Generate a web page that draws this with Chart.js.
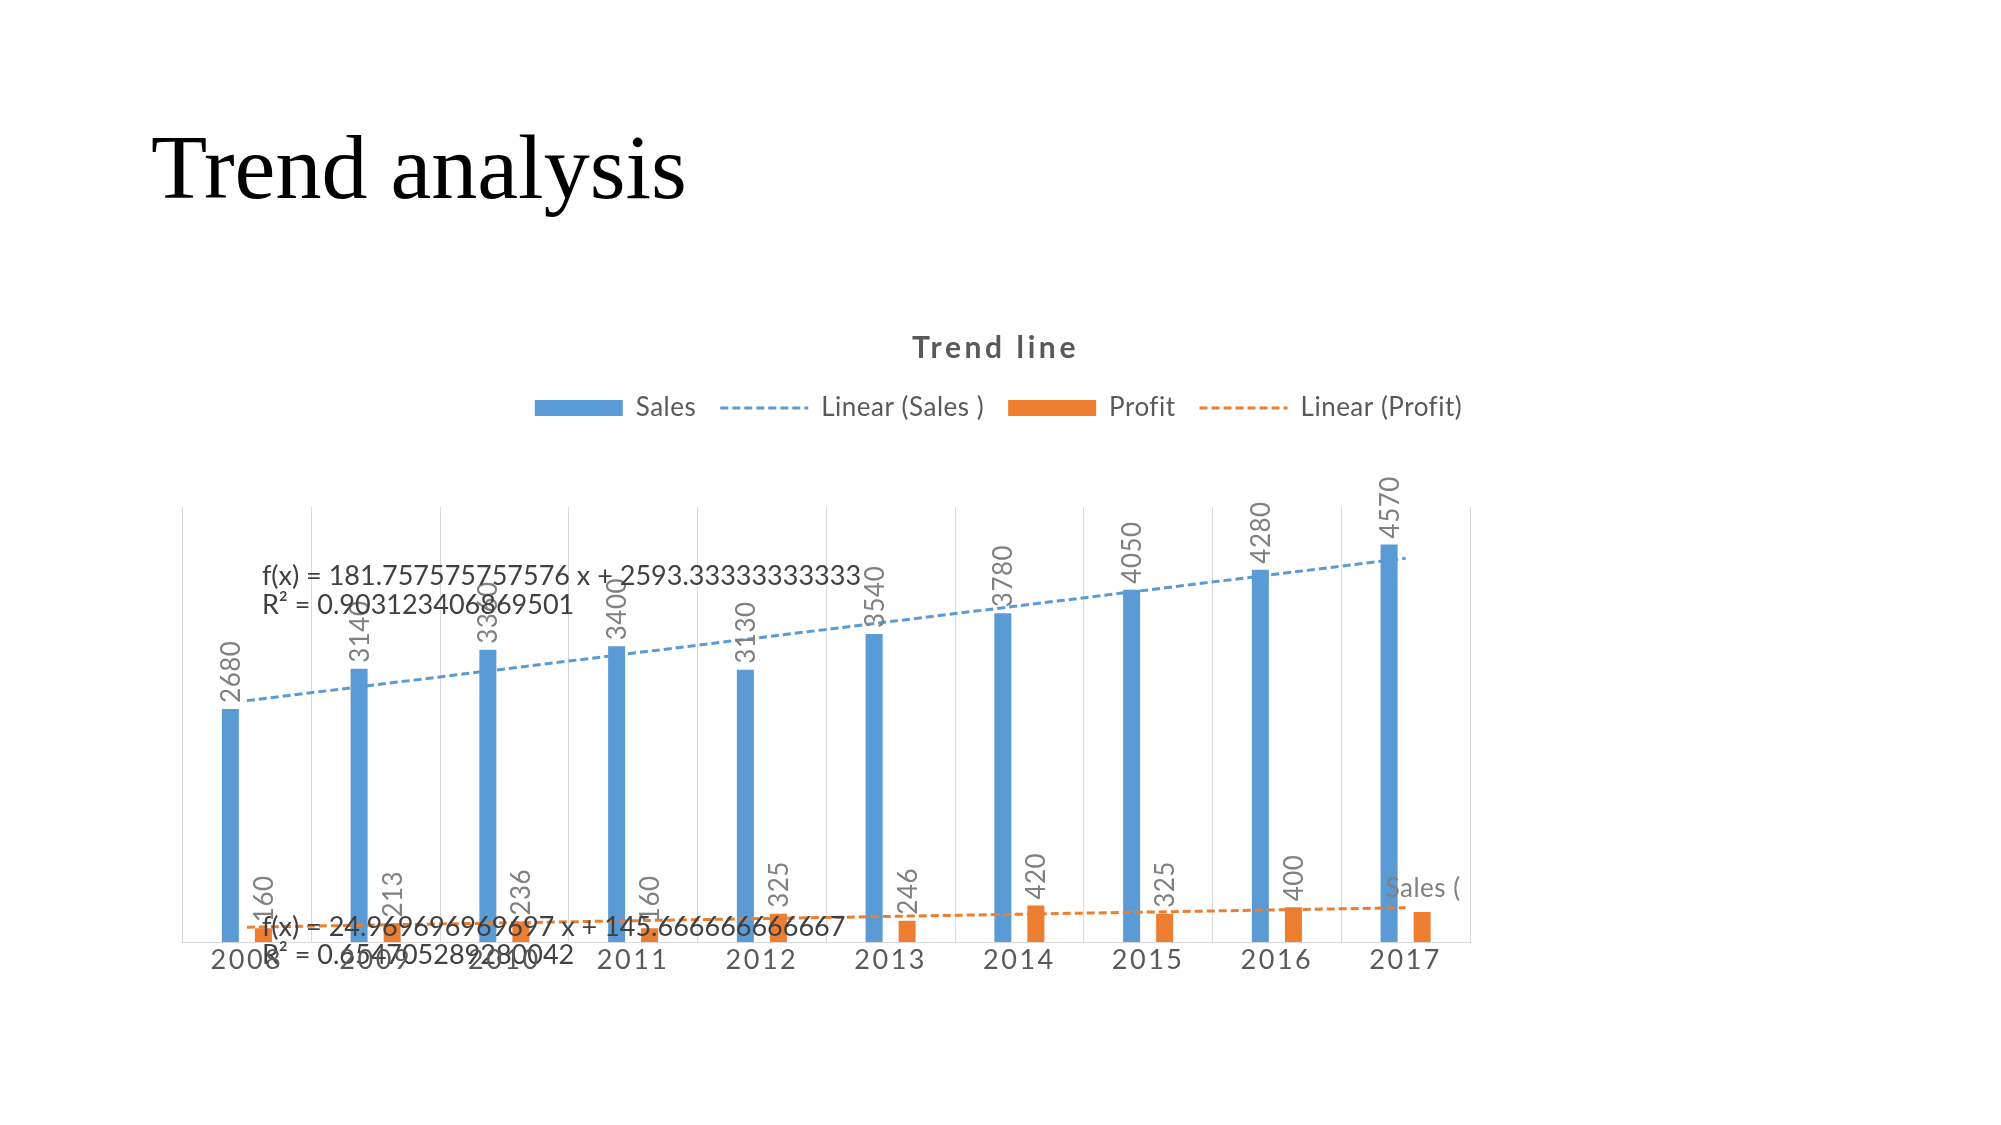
<!DOCTYPE html>
<html>
<head>
<meta charset="utf-8">
<title>Trend analysis</title>
<script src="https://cdn.jsdelivr.net/npm/chart.js"></script>
<style>
html, body { margin: 0; padding: 0; background: #fff; }
body { width: 2001px; height: 1125px; position: relative; overflow: hidden; }
#heading { position: absolute; left: 151px; top: 121px; margin: 0; font: normal 92px/92px 'Liberation Serif', serif; color: #000; white-space: nowrap; }
#trendChart { position: absolute; left: 0; top: 0; }
</style>
</head>
<body>
<h1 id="heading">Trend analysis</h1>
<canvas id="trendChart" width="2001" height="1125"></canvas>
<script>
var years = ['2008', '2009', '2010', '2011', '2012', '2013', '2014', '2015', '2016', '2017']
var sales = [2680, 3140, 3360, 3400, 3130, 3540, 3780, 4050, 4280, 4570]
var profit = [160, 213, 236, 160, 325, 246, 420, 325, 400, 345]

// trend lines: only the two end points; the line spans the gap
var salesTrend = [2775, null, null, null, null, null, null, null, null, 4411]
var profitTrend = [171, null, null, null, null, null, null, null, null, 395]

var salesEquation = ['f(x) = 181.757575757576 x + 2593.33333333333', 'R² = 0.903123406869501']
var profitEquation = ['f(x) = 24.969696969697 x + 145.666666666667', 'R² = 0.654705289280042']
var strayLabel = 'Sales ('
var chartTitle = 'Trend line'

var blue = '#5B9BD5'
var orange = '#ED7D31'

// push the plot down below the legend
var legendGap = {
    id: 'legendGap',
    beforeInit: function(chart){
        var fit = chart.legend.fit
        chart.legend.fit = function(){
            fit.call(this)
            this.height += 76
        }
    }
}

// title, value labels, trend line equations
var textLayer = {
    id: 'textLayer',
    beforeLayout: function(chart){ chart.ctx.letterSpacing = '0.5px' },
    beforeDraw: function(chart){ chart.ctx.letterSpacing = '0.5px' },
    afterDatasetsDraw: function(chart){
        var ctx = chart.ctx
        var xs = chart.scales.x
        var ys = chart.scales.y
        var barSets = [0, 2]

        ctx.save()
        ctx.font = '26px Lato'
        ctx.fillStyle = '#808080'
        ctx.textAlign = 'left'
        ctx.textBaseline = 'middle'
        ctx.letterSpacing = '0.5px'
        barSets.forEach(function(di){
            chart.getDatasetMeta(di).data.forEach(function(bar, i){
                if(di === 2 && i === 9) return  // last profit bar has no label
                ctx.save()
                ctx.translate(bar.x + 1, bar.y - 6)
                ctx.rotate(-Math.PI / 2)
                ctx.fillText(String(chart.data.datasets[di].data[i]), 0, 0)
                ctx.restore()
            })
        })

        ctx.font = '27px Lato'
        ctx.fillStyle = '#404040'
        ctx.letterSpacing = '0px'
        var left = xs.getPixelForValue(0) + 15
        var y0 = ys.getPixelForValue(4200)
        salesEquation.forEach(function(t, i){ ctx.fillText(t, left, y0 + i * 29) })
        y0 = ys.getPixelForValue(172)
        profitEquation.forEach(function(t, i){ ctx.fillText(t, left, y0 + i * 28) })

        ctx.fillStyle = '#808080'
        ctx.font = '26px Lato'
        ctx.letterSpacing = '0.5px'
        ctx.fillText(strayLabel, xs.getPixelForValue(9) - 20, ys.getPixelForValue(620))

        ctx.font = 'bold 30px Lato'
        ctx.fillStyle = '#595959'
        ctx.letterSpacing = '3.6px'
        ctx.textAlign = 'center'
        ctx.textBaseline = 'alphabetic'
        ctx.fillText(chartTitle, (chart.legend.left + chart.legend.right) / 2 - 3, 358)
        ctx.restore()

        // the year labels are drawn after this hook (ticks z: 1), wider spaced
        ctx.letterSpacing = '2.5px'
    },
    afterDraw: function(chart){ chart.ctx.letterSpacing = '0.5px' }
}

var ctx = document.getElementById('trendChart').getContext('2d')
var trendChart = new Chart(ctx, {
    type: 'bar',
    data: {
        labels: years,
        datasets: [
            {label: 'Sales', data: sales, backgroundColor: blue, borderWidth: 0, order: 1},
            {type: 'line', label: 'Linear (Sales )', data: salesTrend, borderColor: blue, backgroundColor: blue,
                borderWidth: 3, borderDash: [8, 4], pointRadius: 0, spanGaps: true, fill: false, order: 0},
            {label: 'Profit', data: profit, backgroundColor: orange, borderWidth: 0, order: 1},
            {type: 'line', label: 'Linear (Profit)', data: profitTrend, borderColor: orange, backgroundColor: orange,
                borderWidth: 3, borderDash: [8, 4], pointRadius: 0, spanGaps: true, fill: false, order: 0}
        ]
    },
    options: {
        responsive: false,
        animation: false,
        events: [],
        layout: {padding: {left: 182.5, right: 186.5, top: 371, bottom: 147.5}},
        datasets: {bar: {categoryPercentage: 0.513, barPercentage: 0.515}},
        scales: {
            x: {
                grid: {color: '#d9d9d9', offset: true, drawTicks: false},
                border: {color: '#d9d9d9'},
                ticks: {color: '#595959', font: {family: 'Lato', size: 27}, padding: 1.5, z: 1}
            },
            y: {
                position: 'right',
                min: 0,
                max: 5000,
                ticks: {display: false},
                grid: {display: false},
                border: {display: false},
                afterFit: function(scale){ scale.width = 344.5 }
            }
        },
        plugins: {
            title: {display: false},
            tooltip: {enabled: false},
            legend: {
                labels: {
                    color: '#595959',
                    font: {family: 'Lato', size: 26},
                    usePointStyle: true,
                    pointStyleWidth: 88,
                    boxHeight: 16,
                    padding: 24,
                    sort: function(a, b){ return a.datasetIndex - b.datasetIndex },
                    generateLabels: function(chart){
                        var items = Chart.defaults.plugins.legend.labels.generateLabels(chart)
                        items.forEach(function(item){
                            var ds = chart.data.datasets[item.datasetIndex]
                            if(ds.type === 'line'){
                                item.pointStyle = 'line'
                                item.lineDash = ds.borderDash
                                item.lineWidth = ds.borderWidth
                                item.strokeStyle = ds.borderColor
                            } else {
                                item.pointStyle = 'rect'
                                item.lineWidth = 0
                            }
                        })
                        return items
                    }
                }
            }
        }
    },
    plugins: [legendGap, textLayer]
})
</script>
</body>
</html>
